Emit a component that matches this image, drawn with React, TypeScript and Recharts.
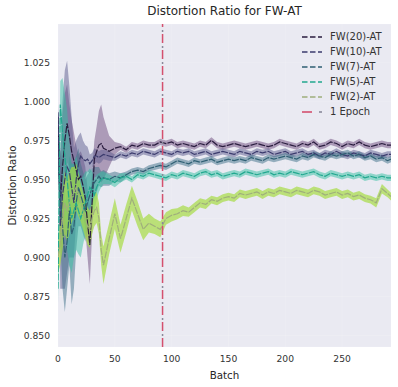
import {
  Area,
  CartesianGrid,
  ComposedChart,
  Label,
  Legend,
  Line,
  ReferenceLine,
  XAxis,
  YAxis,
} from "recharts";

document.body.style.margin = "0";

const FONT = "DejaVu Sans, sans-serif";

// batch index of each sample
const BATCHES = [
  0, 2, 4, 6, 8, 10, 12, 14, 16, 18, 20, 22, 24, 26, 28, 30, 32, 34, 36, 38, 40,
  45, 50, 55, 60, 65, 70, 75, 80, 85, 90, 95, 100, 105, 110, 115, 120, 125, 130,
  135, 140, 145, 150, 155, 160, 165, 170, 175, 180, 185, 190, 195, 200, 205, 210,
  215, 220, 225, 230, 235, 240, 245, 250, 255, 260, 265, 270, 275, 280, 285, 290,
  293,
];

const FW20 = [
  0.99, 0.935, 0.958, 0.975, 0.986, 0.978, 0.968, 0.962, 0.956, 0.95, 0.952,
  0.946, 0.938, 0.922, 0.908, 0.935, 0.963, 0.968, 0.972, 0.973, 0.97,
  0.968, 0.97, 0.971, 0.969, 0.972, 0.971, 0.973, 0.972, 0.972, 0.974,
  0.973, 0.974, 0.972, 0.973, 0.972, 0.971, 0.973, 0.972, 0.975, 0.972,
  0.971, 0.972, 0.973, 0.972, 0.971, 0.972, 0.973, 0.972, 0.971, 0.972,
  0.974, 0.973, 0.972, 0.971, 0.973, 0.972, 0.974, 0.971, 0.972, 0.974,
  0.973, 0.971, 0.973, 0.972, 0.974, 0.972, 0.971, 0.972, 0.973, 0.972,
  0.972,
];
const FW20_SD = [
  0.004, 0.03, 0.035, 0.03, 0.025, 0.02, 0.02, 0.018, 0.016, 0.016, 0.016,
  0.018, 0.02, 0.022, 0.025, 0.02, 0.012, 0.016, 0.022, 0.025, 0.02,
  0.01, 0.004, 0.002, 0.002, 0.002, 0.002, 0.002, 0.002, 0.002, 0.002,
  0.002, 0.002, 0.002, 0.002, 0.002, 0.002, 0.002, 0.002, 0.002, 0.002,
  0.002, 0.002, 0.002, 0.002, 0.002, 0.002, 0.002, 0.002, 0.002, 0.002,
  0.002, 0.002, 0.002, 0.002, 0.002, 0.002, 0.002, 0.002, 0.002, 0.002,
  0.002, 0.002, 0.002, 0.002, 0.002, 0.002, 0.002, 0.002, 0.002, 0.002,
  0.002,
];

const FW10 = [
  0.993, 0.92, 0.94, 0.95, 0.958, 0.955, 0.945, 0.935, 0.95, 0.96, 0.965,
  0.963, 0.962, 0.963, 0.96, 0.962, 0.965, 0.965, 0.964, 0.965, 0.966,
  0.965, 0.964, 0.966, 0.965, 0.967, 0.966, 0.968, 0.967, 0.966, 0.968,
  0.967, 0.966, 0.968, 0.967, 0.968, 0.966, 0.967, 0.968, 0.966, 0.967,
  0.968, 0.967, 0.966, 0.968, 0.967, 0.966, 0.968, 0.967, 0.968, 0.966,
  0.967, 0.968, 0.966, 0.967, 0.968, 0.966, 0.967, 0.965, 0.967, 0.966,
  0.968, 0.966, 0.965, 0.967, 0.966, 0.965, 0.967, 0.966, 0.965, 0.966,
  0.966,
];
const FW10_SD = [
  0.005, 0.04, 0.06, 0.07, 0.068, 0.055, 0.045, 0.035, 0.025, 0.018, 0.015,
  0.012, 0.01, 0.008, 0.006, 0.005, 0.005, 0.004, 0.004, 0.004, 0.003,
  0.003, 0.002, 0.002, 0.002, 0.002, 0.002, 0.002, 0.002, 0.002, 0.002,
  0.002, 0.002, 0.002, 0.002, 0.002, 0.002, 0.002, 0.002, 0.002, 0.002,
  0.002, 0.002, 0.002, 0.002, 0.002, 0.002, 0.002, 0.002, 0.002, 0.002,
  0.002, 0.002, 0.002, 0.002, 0.002, 0.002, 0.002, 0.002, 0.002, 0.002,
  0.002, 0.002, 0.002, 0.002, 0.002, 0.002, 0.002, 0.002, 0.002, 0.002,
  0.002,
];

const FW7 = [
  0.96, 0.94, 0.92, 0.9, 0.91, 0.93, 0.915, 0.92, 0.935, 0.945, 0.94,
  0.935, 0.93, 0.935, 0.94, 0.945, 0.948, 0.95, 0.952, 0.95, 0.951,
  0.95, 0.952, 0.951, 0.953, 0.955, 0.956, 0.955, 0.957, 0.958, 0.959,
  0.958, 0.96, 0.962, 0.961, 0.96, 0.962, 0.961, 0.962, 0.963, 0.961,
  0.962, 0.963, 0.962, 0.963, 0.962, 0.964, 0.963, 0.962, 0.964, 0.963,
  0.964, 0.965, 0.964, 0.963, 0.965, 0.964, 0.966, 0.965, 0.964, 0.966,
  0.965, 0.966, 0.967, 0.965, 0.966, 0.964, 0.965, 0.963, 0.964, 0.962,
  0.963,
];
const FW7_SD = [
  0.01, 0.03, 0.04, 0.035, 0.03, 0.035, 0.045, 0.04, 0.03, 0.025, 0.02,
  0.02, 0.02, 0.018, 0.015, 0.012, 0.01, 0.008, 0.006, 0.005, 0.005,
  0.004, 0.003, 0.003, 0.002, 0.002, 0.002, 0.002, 0.002, 0.002, 0.002,
  0.002, 0.002, 0.002, 0.002, 0.002, 0.002, 0.002, 0.002, 0.002, 0.002,
  0.002, 0.002, 0.002, 0.002, 0.002, 0.002, 0.002, 0.002, 0.002, 0.002,
  0.002, 0.002, 0.002, 0.002, 0.002, 0.002, 0.002, 0.002, 0.002, 0.002,
  0.002, 0.002, 0.002, 0.002, 0.002, 0.002, 0.002, 0.002, 0.002, 0.002,
  0.002,
];

const FW5 = [
  0.88, 0.998, 0.98, 0.965, 0.95, 0.935, 0.925, 0.93, 0.935, 0.93, 0.925,
  0.93, 0.935, 0.94, 0.945, 0.943, 0.94, 0.945, 0.948, 0.95, 0.951,
  0.95, 0.948, 0.951, 0.952, 0.95, 0.953, 0.952, 0.954, 0.953, 0.952,
  0.951, 0.953, 0.952, 0.954, 0.953, 0.952, 0.954, 0.955, 0.953, 0.954,
  0.952, 0.953, 0.954, 0.953, 0.955, 0.954, 0.953, 0.954, 0.955, 0.953,
  0.954, 0.953, 0.955, 0.954, 0.953, 0.954, 0.955, 0.953, 0.952, 0.954,
  0.953, 0.952, 0.953, 0.952, 0.953, 0.951, 0.952, 0.951, 0.952, 0.951,
  0.951,
];
const FW5_SD = [
  0.01, 0.015, 0.035, 0.04, 0.045, 0.04, 0.035, 0.03, 0.03, 0.028, 0.025,
  0.022, 0.02, 0.015, 0.012, 0.012, 0.01, 0.008, 0.006, 0.005, 0.004,
  0.003, 0.003, 0.003, 0.002, 0.002, 0.002, 0.002, 0.002, 0.002, 0.002,
  0.002, 0.002, 0.002, 0.002, 0.002, 0.002, 0.002, 0.002, 0.002, 0.002,
  0.002, 0.002, 0.002, 0.002, 0.002, 0.002, 0.002, 0.002, 0.002, 0.002,
  0.002, 0.002, 0.002, 0.002, 0.002, 0.002, 0.002, 0.002, 0.002, 0.002,
  0.002, 0.002, 0.002, 0.002, 0.002, 0.002, 0.002, 0.002, 0.002, 0.002,
  0.002,
];

const FW2 = [
  0.9, 0.91, 0.925, 0.935, 0.93, 0.935, 0.94, 0.942, 0.945, 0.94, 0.935,
  0.93, 0.925, 0.92, 0.918, 0.925, 0.93, 0.932, 0.925, 0.905, 0.895,
  0.912, 0.928, 0.912, 0.925, 0.938, 0.928, 0.918, 0.922, 0.92, 0.918,
  0.925, 0.927, 0.928, 0.93, 0.929, 0.932, 0.935, 0.934, 0.937, 0.936,
  0.938, 0.939, 0.938, 0.941, 0.94, 0.941, 0.942, 0.94, 0.942, 0.941,
  0.943, 0.942, 0.941, 0.943, 0.942, 0.941, 0.943, 0.942, 0.94, 0.941,
  0.942, 0.94, 0.941, 0.939, 0.94, 0.938, 0.937, 0.935, 0.944, 0.941,
  0.939,
];
const FW2_SD = [
  0.01, 0.015, 0.02, 0.02, 0.02, 0.02, 0.018, 0.016, 0.015, 0.014, 0.012,
  0.012, 0.012, 0.012, 0.012, 0.01, 0.01, 0.01, 0.01, 0.01, 0.012,
  0.01, 0.01, 0.009, 0.009, 0.008, 0.008, 0.007, 0.006, 0.005, 0.005,
  0.004, 0.004, 0.0035, 0.0035, 0.003, 0.003, 0.003, 0.003, 0.0025, 0.0025,
  0.0025, 0.0025, 0.0025, 0.0025, 0.0025, 0.0025, 0.0025, 0.0025, 0.0025, 0.0025,
  0.0025, 0.0025, 0.0025, 0.0025, 0.0025, 0.0025, 0.0025, 0.0025, 0.0025, 0.0025,
  0.0025, 0.0025, 0.0025, 0.0025, 0.0025, 0.0025, 0.0025, 0.003, 0.003, 0.0025,
  0.0025,
];

const EPOCH_BATCH = 92;
const X_TICKS = [0, 50, 100, 150, 200, 250];
const Y_TICKS = [0.85, 0.875, 0.9, 0.925, 0.95, 0.975, 1.0, 1.025];

const SERIES = [
  { key: "fw20", name: "FW(20)-AT", mean: FW20, sd: FW20_SD, line: "#2a1d3f", band: "#6e4c7e", op: 0.5 },
  { key: "fw10", name: "FW(10)-AT", mean: FW10, sd: FW10_SD, line: "#3b3b6d", band: "#5c5c8e", op: 0.5 },
  { key: "fw7", name: "FW(7)-AT", mean: FW7, sd: FW7_SD, line: "#2f5f73", band: "#3e7088", op: 0.5 },
  { key: "fw5", name: "FW(5)-AT", mean: FW5, sd: FW5_SD, line: "#22a88f", band: "#33c0a2", op: 0.5 },
  { key: "fw2", name: "FW(2)-AT", mean: FW2, sd: FW2_SD, line: "#9fae7c", band: "#a6dc44", op: 0.7 },
];

const data = BATCHES.map((b, i) => {
  const row: Record<string, number | number[]> = { batch: b };
  SERIES.forEach((s) => {
    row[s.key] = s.mean[i];
    row[s.key + "Band"] = [s.mean[i] - s.sd[i], s.mean[i] + s.sd[i]];
  });
  return row;
});

function LegendBox() {
  return (
    <div style={{ fontFamily: FONT, fontSize: 10, color: "#333" }}>
      {SERIES.map((s) => (
        <div key={s.key} style={{ display: "flex", alignItems: "center", height: 15 }}>
          <svg width={22} height={6}>
            <line x1={1} y1={3} x2={21} y2={3} stroke={s.line} strokeWidth={1.6} strokeDasharray="5.5 2.5" />
          </svg>
          <span style={{ marginLeft: 7 }}>{s.name}</span>
        </div>
      ))}
      <div style={{ display: "flex", alignItems: "center", height: 15 }}>
        <svg width={22} height={6}>
          <line x1={1} y1={3} x2={11} y2={3} stroke="#d4506e" strokeWidth={1.6} />
          <line x1={18} y1={3} x2={21} y2={3} stroke="#8a8a9a" strokeWidth={1.6} />
        </svg>
        <span style={{ marginLeft: 7 }}>1 Epoch</span>
      </div>
    </div>
  );
}

export default function App() {
  return (
    <div style={{ position: "relative", width: 398, height: 387, background: "#fff" }}>
      <div
        style={{
          position: "absolute",
          top: 4,
          left: 58,
          width: 333,
          textAlign: "center",
          fontFamily: FONT,
          fontSize: 12,
          color: "#262626",
        }}
      >
        Distortion Ratio for FW-AT
      </div>
      <ComposedChart
        width={398}
        height={387}
        data={data}
        margin={{ top: 24, right: 7, left: 0, bottom: 0 }}
      >
        <CartesianGrid fill="#eaeaf2" stroke="#ffffff" strokeOpacity={0.15} />
        <XAxis
          dataKey="batch"
          type="number"
          domain={[0, 293]}
          ticks={X_TICKS}
          allowDataOverflow
          axisLine={false}
          tickLine={false}
          height={40}
          tick={{ fill: "#333", fontSize: 9.2, fontFamily: FONT }}
        >
          <Label
            value="Batch"
            position="insideBottom"
            offset={8}
            style={{ fill: "#262626", fontSize: 10.3, fontFamily: FONT }}
          />
        </XAxis>
        <YAxis
          type="number"
          domain={[0.8426, 1.0496]}
          ticks={Y_TICKS}
          allowDataOverflow
          axisLine={false}
          tickLine={false}
          width={58}
          tickFormatter={(v) => v.toFixed(3)}
          tick={{ fill: "#333", fontSize: 9.2, fontFamily: FONT }}
        >
          <Label
            value="Distortion Ratio"
            angle={-90}
            position="insideLeft"
            offset={12}
            style={{ fill: "#262626", fontSize: 10.3, fontFamily: FONT, textAnchor: "middle" }}
          />
        </YAxis>
        {SERIES.map((s) => (
          <Area
            key={s.key + "Band"}
            dataKey={s.key + "Band"}
            type="linear"
            stroke="none"
            fill={s.band}
            fillOpacity={s.op}
            isAnimationActive={false}
          />
        ))}
        {SERIES.map((s) => (
          <Line
            key={s.key}
            dataKey={s.key}
            name={s.name}
            type="linear"
            stroke={s.line}
            strokeWidth={1.2}
            strokeDasharray="7 1.2"
            dot={false}
            isAnimationActive={false}
          />
        ))}
        <ReferenceLine x={EPOCH_BATCH} stroke="#d4506e" strokeWidth={1.5} strokeDasharray="9 7" />
        <ReferenceLine x={EPOCH_BATCH} stroke="#8a8a9a" strokeWidth={1.5} strokeDasharray="0 11 2 3" />
        <Legend
          verticalAlign="middle"
          content={() => <LegendBox />}
          wrapperStyle={{ top: 29, left: 301, width: 95, height: 92 }}
        />
      </ComposedChart>
    </div>
  );
}
